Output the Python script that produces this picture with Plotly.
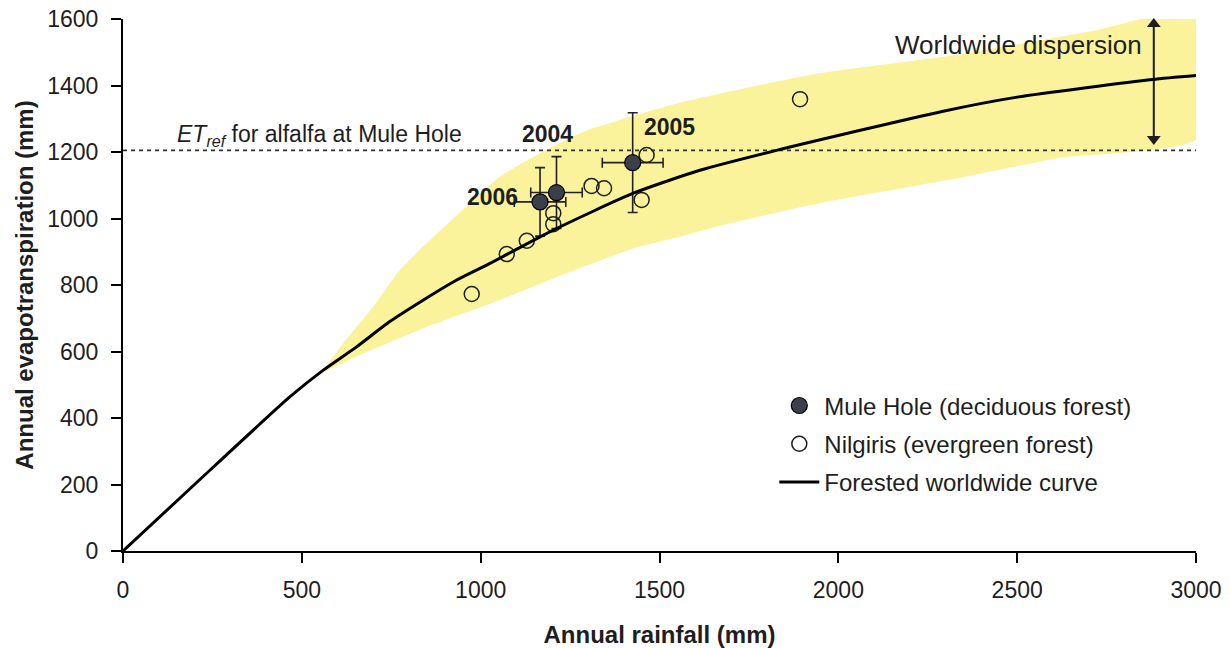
import plotly.graph_objects as go

# ---------------- data ----------------
curve_x = [0, 200, 467, 560, 653, 746, 840, 933, 1026, 1203, 1427, 1613, 1827, 2290, 2500, 2878, 3000]
curve_y = [0, 200, 464, 544, 614, 690, 755, 815, 865, 965, 1076, 1145, 1205, 1322, 1365, 1418, 1430]

band_upper_x = [560, 616, 700, 774, 858, 914, 1054, 1166, 1290, 1557, 1943, 2329, 2714, 3000]
band_upper_y = [540, 625, 735, 845, 935, 990, 1126, 1196, 1262, 1348, 1436, 1492, 1565, 1622]
band_lower_x = [560, 653, 840, 1054, 1240, 1427, 1557, 1669, 1943, 2329, 2618, 3000]
band_lower_y = [540, 585, 670, 755, 835, 910, 945, 978, 1045, 1120, 1182, 1238]

mule_years = ["2006", "2004", "2005"]
mule_x = [1166, 1212, 1425]
mule_y = [1050, 1078, 1168]
mule_xerr = [72, 72, 85]
mule_yerr = [103, 108, 150]

nilgiris_x = [975, 1073, 1129, 1203, 1203, 1310, 1345, 1450, 1464, 1893]
nilgiris_y = [773, 893, 933, 1016, 983, 1098, 1091, 1056, 1191, 1359]

et_ref = 1205

x_ticks = [0, 500, 1000, 1500, 2000, 2500, 3000]
y_ticks = [0, 200, 400, 600, 800, 1000, 1200, 1400, 1600]

# year label positions (data coords)
year_label_x = [1034, 1188, 1529]
year_label_y = [1065, 1254, 1275]

# double arrow "worldwide dispersion" (shaft ends, arrowheads at both ends)
dispersion_x = [2882, 2882]
dispersion_y = [1239, 1585]

FONT = "Liberation Sans, Arial, sans-serif"
TXT = "#1e1e1e"

fig = go.Figure()

# dispersion band
poly_x = band_upper_x + band_lower_x[::-1]
poly_y = band_upper_y + band_lower_y[::-1]
fig.add_trace(go.Scatter(
    x=poly_x, y=poly_y, fill="toself", mode="lines",
    line=dict(width=0, shape="spline", smoothing=0.5), fillcolor="#FAF39C",
    showlegend=False, hoverinfo="skip"))

# ET_ref line
fig.add_trace(go.Scatter(
    x=[0, 3000], y=[et_ref, et_ref], mode="lines",
    line=dict(color="#333333", width=1.6, dash="4px,4px"),
    showlegend=False, hoverinfo="skip"))

# dispersion double arrow
fig.add_trace(go.Scatter(
    x=dispersion_x, y=dispersion_y, mode="lines+markers",
    line=dict(color="#1e1e1e", width=2),
    marker=dict(symbol=["triangle-down", "triangle-up"], size=12, color="#1e1e1e",
                line=dict(width=0)),
    cliponaxis=False, showlegend=False, hoverinfo="skip"))

# Mule Hole
fig.add_trace(go.Scatter(
    x=mule_x, y=mule_y, mode="markers", name="Mule Hole (deciduous forest)",
    legendgroup="a",
    marker=dict(size=16, color="#3a3f4a", line=dict(color="black", width=1.2)),
    error_x=dict(type="data", array=mule_xerr, color="#222", thickness=1.6, width=5),
    error_y=dict(type="data", array=mule_yerr, color="#222", thickness=1.6, width=5)))

# Nilgiris
fig.add_trace(go.Scatter(
    x=nilgiris_x, y=nilgiris_y, mode="markers", name="Nilgiris (evergreen forest)",
    legendgroup="b",
    marker=dict(size=15, color="rgba(0,0,0,0)", line=dict(color="#1e1e1e", width=1.5))))

# curve
fig.add_trace(go.Scatter(
    x=curve_x, y=curve_y, mode="lines", name="Forested worldwide curve",
    legendgroup="c",
    line=dict(color="black", width=3, shape="spline", smoothing=0.6)))

# year labels
for t, lx, ly in zip(mule_years, year_label_x, year_label_y):
    fig.add_annotation(x=lx, y=ly, text="<b>" + t + "</b>", showarrow=False,
                       font=dict(family=FONT, size=23, color=TXT))

# ET_ref label
fig.add_annotation(x=145, y=1251, xanchor="left", yanchor="middle",
                   text="<i>ET</i><sub><i>ref</i></sub> for alfalfa at Mule Hole",
                   showarrow=False, font=dict(family=FONT, size=23, color=TXT))

# Worldwide dispersion label
fig.add_annotation(x=2855, y=1522, xanchor="right", yanchor="middle",
                   text="Worldwide dispersion", showarrow=False,
                   font=dict(family=FONT, size=26, color=TXT))

axis_common = dict(showline=True, linecolor="black", linewidth=2, ticks="outside",
                   ticklen=10, tickwidth=2, tickcolor="black", showgrid=False,
                   zeroline=False, automargin=False,
                   tickfont=dict(family=FONT, size=23, color=TXT))

fig.update_layout(
    width=1230, height=648,
    margin=dict(l=123, r=34, t=19, b=97),
    plot_bgcolor="white", paper_bgcolor="white",
    font=dict(family=FONT, color=TXT),
    xaxis=dict(range=[0, 3000], tickvals=x_ticks, ticklabelstandoff=7,
               title=dict(text="<b>Annual rainfall (mm)</b>", font=dict(family=FONT, size=24, color=TXT), standoff=26),
               **axis_common),
    yaxis=dict(range=[0, 1600], tickvals=y_ticks, ticklabelstandoff=8,
               title=dict(text="<b>Annual evapotranspiration (mm)</b>", font=dict(family=FONT, size=24, color=TXT), standoff=7),
               **axis_common),
    legend=dict(x=0.607, y=0.315, xanchor="left", yanchor="top",
                font=dict(family=FONT, size=24, color=TXT), bgcolor="rgba(0,0,0,0)",
                itemwidth=40, tracegroupgap=4),
    showlegend=True,
)

fig.write_html("out.html", config={"displayModeBar": False},
               post_script="document.body.style.margin='0px';document.body.style.overflow='hidden';")
